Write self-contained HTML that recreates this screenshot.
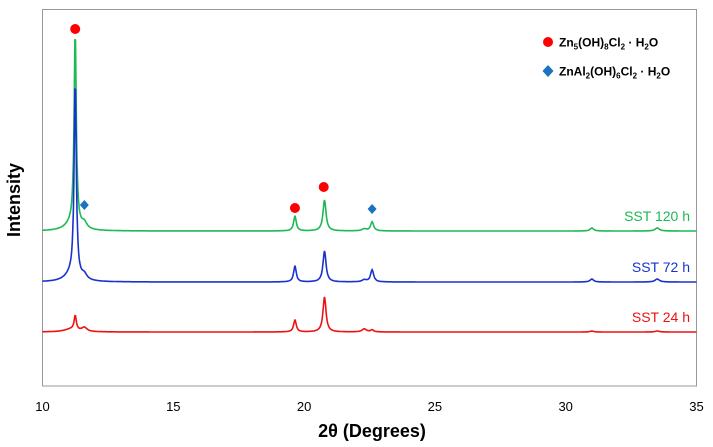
<!DOCTYPE html>
<html><head><meta charset="utf-8"><style>
body{margin:0;background:#fff;width:713px;height:447px;overflow:hidden}
svg{display:block;font-family:"Liberation Sans",sans-serif}
</style></head><body>
<svg id="chart" width="713" height="447">
<rect x="42.5" y="9.5" width="654" height="376.5" fill="none" stroke="#999"/>
<g id="ticks"></g>
<g id="series"></g>
<g id="markers"></g>
<text x="20" y="200" transform="rotate(-90 20 200)" text-anchor="middle" font-size="18" font-weight="bold">Intensity</text>
<text x="372" y="437" text-anchor="middle" font-size="18" font-weight="bold">2θ (Degrees)</text>
<g>
<circle cx="548" cy="42" r="5" fill="#f00"/>
<text x="559" y="46.5" font-size="12" font-weight="bold">Zn<tspan font-size="8" dy="3">5</tspan><tspan dy="-3">(OH)</tspan><tspan font-size="8" dy="3">8</tspan><tspan dy="-3">Cl</tspan><tspan font-size="8" dy="3">2</tspan><tspan dy="-3"> ·  H</tspan><tspan font-size="8" dy="3">2</tspan><tspan dy="-3">O</tspan></text>
<path d="M548 65 L553.5 71 L548 77 L542.5 71Z" fill="#1a73c0"/>
<text x="559" y="75.5" font-size="12" font-weight="bold">ZnAl<tspan font-size="8" dy="3">2</tspan><tspan dy="-3">(OH)</tspan><tspan font-size="8" dy="3">6</tspan><tspan dy="-3">Cl</tspan><tspan font-size="8" dy="3">2</tspan><tspan dy="-3"> · H</tspan><tspan font-size="8" dy="3">2</tspan><tspan dy="-3">O</tspan></text>
</g>
</svg>
<script>
const xTicks=[10,15,20,25,30,35];
const seriesNames=["SST 120 h","SST 72 h","SST 24 h"];
const seriesColors=["#1db954","#1a33cc","#ee1111"];
const baselines=[155,104,54];
const peakPos=[11.25,11.1,11.6,19.65,20.78,22.6,22.3,31.0,33.5];
const peaks120=[193,6,6,15,31,9,2,3,3];
const peaks72=[194,7,5,16,31,12,2,3,3];
const peaks24=[14,3,4,12,35,2,3,1,1];
const peakWidths=[0.05,0.3,0.12,0.06,0.07,0.07,0.1,0.08,0.1];
const redMarkers=[[11.25,357],[19.65,178],[20.75,199]];
const blueMarkers=[[11.6,181],[22.6,177]];
const X=v=>42.5+(v-10)*(654/25);
const Y=v=>386-v;
const ns="http://www.w3.org/2000/svg";
const tg=document.getElementById('ticks');
xTicks.forEach(t=>{const e=document.createElementNS(ns,'text');
e.setAttribute('x',X(t));e.setAttribute('y',411);e.setAttribute('text-anchor','middle');e.setAttribute('font-size','13');


e.textContent=t;tg.appendChild(e);});
const sg=document.getElementById('series');
[peaks120,peaks72,peaks24].forEach((pk,i)=>{
 let d='';
 for(let x=10;x<=35.0001;x+=0.02){
  let v=baselines[i];
  pk.forEach((h,j)=>{const w=peakWidths[j];const u=(x-peakPos[j])/w;v+=h/(1+u*u);});
  d+=(d?'L':'M')+X(x).toFixed(1)+' '+Y(v).toFixed(1);
 }
 const p=document.createElementNS(ns,'path');
 p.setAttribute('d',d);p.setAttribute('fill','none');p.setAttribute('stroke',seriesColors[i]);p.setAttribute('stroke-width','1.6');
 
 
 sg.appendChild(p);
 const t=document.createElementNS(ns,'text');
 t.setAttribute('x',690);t.setAttribute('y',Y(baselines[i])-10);t.setAttribute('text-anchor','end');t.setAttribute('font-size','14');t.setAttribute('fill',seriesColors[i]);
 
 
 t.textContent=seriesNames[i];sg.appendChild(t);
});
const mg=document.getElementById('markers');
redMarkers.forEach(m=>{const c=document.createElementNS(ns,'circle');
c.setAttribute('cx',X(m[0]));c.setAttribute('cy',Y(m[1]));c.setAttribute('r',5);c.setAttribute('fill','#f00');


mg.appendChild(c);});
blueMarkers.forEach(m=>{const c=document.createElementNS(ns,'path');const x=X(m[0]),y=Y(m[1]);
c.setAttribute('d',`M${x} ${y-5}L${x+4.5} ${y}L${x} ${y+5}L${x-4.5} ${y}Z`);c.setAttribute('fill','#1a73c0');


mg.appendChild(c);});
</script>
</body></html>
